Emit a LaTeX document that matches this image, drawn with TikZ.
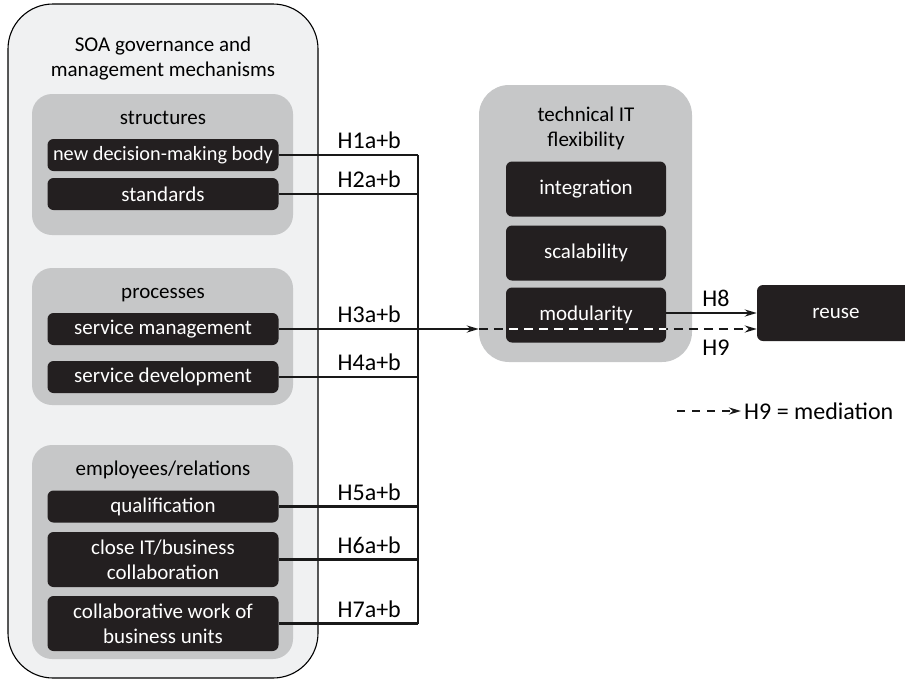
\documentclass[tikz,border=0pt]{standalone}
\usepackage{fontspec}
\setmainfont{Carlito}
\usetikzlibrary{positioning,arrows.meta,calc}

\definecolor{outerfill}{HTML}{F0F1F2}
\definecolor{groupfill}{HTML}{C6C7C8}
\definecolor{boxfill}{HTML}{231F20}

\begin{document}
\begin{tikzpicture}[x=1pt, y=-1pt, >={Stealth[length=12pt,width=7pt]},
    font=\fontsize{21}{25}\selectfont,
    outer/.style={draw, line width=1.1pt, fill=outerfill, rounded corners=45pt, inner sep=0pt},
    group/.style={fill=groupfill, rounded corners=20pt, inner sep=0pt},
    item/.style={fill=boxfill, text=white, rounded corners=6pt, align=center,
        minimum width=231pt, minimum height=32pt, inner sep=0pt},
    titem/.style={item, minimum width=160pt, minimum height=55pt},
    link/.style={line width=2.2pt, black!90},
    hyp/.style={inner sep=0pt, font=\fontsize{24}{28}\selectfont}]
    \useasboundingbox (0,0) rectangle (905,681);

    % left block: governance and management
    \node[outer, minimum width=310pt, minimum height=674pt] (gov) at (163,341) {};
    \node[align=center] (govtitle) at (163,59) {SOA governance and\\management mechanisms};

    \node[group, minimum width=261pt, minimum height=141pt] (struct) at (162.5,164.5) {};
    \node (structlab) at (163,118) {structures};
    \node[item, font=\fontsize{20.3}{25}\selectfont] (body) at (163,155) {new decision-making body};
    \node[item] (std) at (163,194) {standards};

    \node[group, minimum width=261pt, minimum height=137pt] (proc) at (162.5,336.5) {};
    \node (proclab) at (163,295) {processes};
    \node[item] (smgmt) at (163,329) {service management};
    \node[item] (sdev) at (163,377) {service development};

    \node[group, minimum width=261pt, minimum height=214pt] (empl) at (162.5,552) {};
    \node (empllab) at (163,470) {employees/relations};
    \node[item] (qual) at (163,506.5) {qualification};
    \node[item, minimum height=55pt] (collab) at (163,559.5) {close IT/business\\collaboration};
    \node[item, minimum height=55pt] (units) at (163,623.5) {collaborative work of\\business units};

    % right block: technical IT flexibility
    \node[group, rounded corners=30pt, minimum width=213pt, minimum height=277pt] (tech) at (585.5,223.5) {};
    \node[align=center] (techlab) at (586,128) {technical IT\\flexibility};
    \node[titem] (integ) at (586,189) {integration};
    \node[titem] (scal) at (586,253) {scalability};
    \node[titem] (modul) at (586,315) {modularity};

    \node[item, minimum width=158pt, minimum height=56pt] (reuse) at (836,313) {reuse};

    % hypotheses
    \coordinate (bus) at (418,0);
    \foreach \src/\lab in {body/H1a+b, std/H2a+b, smgmt/H3a+b, sdev/H4a+b,
                           qual/H5a+b, collab/H6a+b, units/H7a+b} {
        \draw[link] (\src.east) -- (bus |- \src.east);
        \node[hyp, above=6pt of {$(\src.east)!0.65!(bus |- \src.east)$}] (lab-\src) {\lab};
    }
    \draw[link] (bus |- body.east) -- (bus |- units.east);
    \draw[link, ->] (bus |- smgmt.east) -- (tech.west |- smgmt.east);

    \draw[link, ->] (modul.east |- reuse.west) -- (reuse.west);
    \node[hyp] (h8) at (716,298) {H8};
    \draw[link, dash pattern=on 9pt off 6pt, ->] (tech.west |- smgmt.east) -- (reuse.west |- smgmt.east);
    \begin{scope}
        \clip[rounded corners=6pt] (modul.south west) rectangle (modul.north east);
        \draw[link, white, dash pattern=on 9pt off 6pt] (tech.west |- smgmt.east) -- (reuse.west |- smgmt.east);
    \end{scope}
    \node[hyp] (h9) at (716,348) {H9};

    % legend
    \coordinate (legstart) at (677,411);
    \node[hyp, anchor=west] (legtext) at (744,411) {H9 = mediation};
    \draw[link, dash pattern=on 8pt off 7pt, ->] (legstart) -- ([xshift=-3pt]legtext.west);
\end{tikzpicture}
\end{document}
